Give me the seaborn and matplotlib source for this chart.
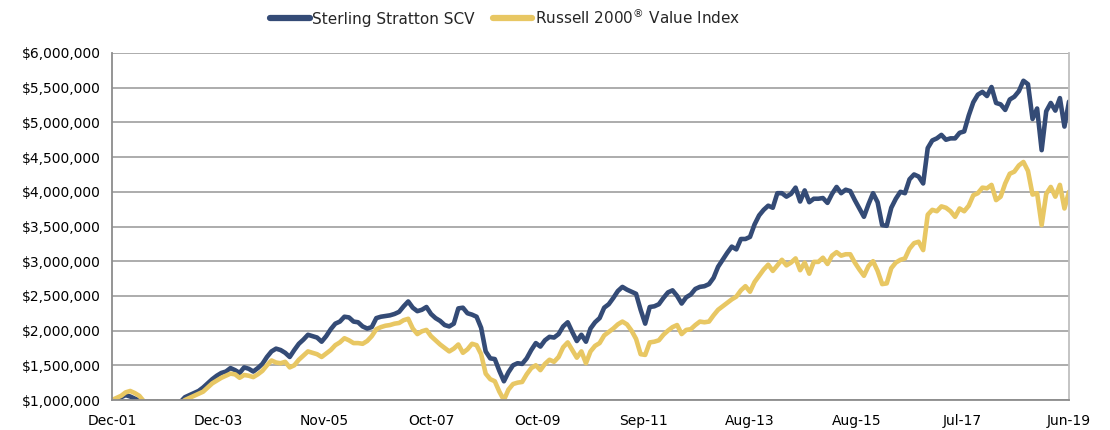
import numpy as np
import pandas as pd
import matplotlib
matplotlib.use("Agg")
import matplotlib.pyplot as plt
import matplotlib.ticker as mticker
import seaborn as sns

# Growth of $1,000,000, monthly from Dec-01 to Jun-19 (values in $ millions)
scv = [
    1.00, 1.01, 1.04, 1.07, 1.05, 1.02, 0.99, 0.95, 0.90, 0.88,
    0.97, 0.93, 0.88, 0.86, 0.90, 0.97, 1.04, 1.07, 1.10, 1.13,
    1.18, 1.24, 1.30, 1.35, 1.39, 1.41, 1.46, 1.43, 1.39, 1.47,
    1.45, 1.41, 1.46, 1.52, 1.62, 1.70, 1.74, 1.72, 1.68, 1.62,
    1.72, 1.81, 1.87, 1.94, 1.92, 1.90, 1.84, 1.92, 2.02, 2.10,
    2.13, 2.20, 2.19, 2.13, 2.12, 2.06, 2.03, 2.05, 2.18, 2.20,
    2.21, 2.22, 2.24, 2.27, 2.35, 2.42, 2.33, 2.28, 2.30, 2.34,
    2.24, 2.18, 2.14, 2.08, 2.06, 2.10, 2.32, 2.33, 2.25, 2.23,
    2.20, 2.04, 1.70, 1.60, 1.59, 1.42, 1.27, 1.40, 1.50, 1.53,
    1.52, 1.60, 1.72, 1.82, 1.77, 1.86, 1.91, 1.90, 1.95, 2.06,
    2.12, 1.98, 1.85, 1.94, 1.84, 2.03, 2.12, 2.18, 2.33, 2.38,
    2.47, 2.57, 2.63, 2.59, 2.56, 2.53, 2.30, 2.10, 2.34, 2.35,
    2.38, 2.47, 2.55, 2.58, 2.50, 2.39, 2.48, 2.52, 2.60, 2.63,
    2.64, 2.67, 2.76, 2.92, 3.02, 3.12, 3.21, 3.17, 3.32, 3.32,
    3.35, 3.53, 3.66, 3.74, 3.80, 3.77, 3.98, 3.98, 3.93, 3.97,
    4.06, 3.86, 4.02, 3.85, 3.90, 3.90, 3.91, 3.84, 3.97, 4.07,
    3.98, 4.03, 4.01, 3.88, 3.76, 3.64, 3.82, 3.98, 3.85, 3.52,
    3.51, 3.77, 3.90, 4.00, 3.98, 4.18, 4.25, 4.22, 4.12, 4.63,
    4.74, 4.77, 4.82, 4.75, 4.77, 4.77, 4.85, 4.87, 5.10, 5.29,
    5.40, 5.44, 5.38, 5.51, 5.28, 5.26, 5.18, 5.33, 5.37, 5.45,
    5.60, 5.55, 5.05, 5.20, 4.60, 5.16, 5.28, 5.17, 5.35, 4.94,
    5.30,
]

r2000v = [
    1.00, 1.03, 1.06, 1.11, 1.13, 1.10, 1.06, 0.98, 0.90, 0.86,
    0.95, 0.92, 0.86, 0.84, 0.88, 0.95, 1.00, 1.03, 1.06, 1.09,
    1.12, 1.18, 1.24, 1.28, 1.32, 1.35, 1.38, 1.37, 1.32, 1.36,
    1.35, 1.33, 1.37, 1.42, 1.50, 1.57, 1.54, 1.53, 1.55, 1.47,
    1.50, 1.58, 1.64, 1.70, 1.68, 1.66, 1.62, 1.67, 1.72, 1.79,
    1.83, 1.89, 1.86, 1.82, 1.82, 1.81, 1.85, 1.92, 2.02, 2.05,
    2.07, 2.08, 2.10, 2.11, 2.15, 2.17, 2.03, 1.95, 1.99, 2.01,
    1.92, 1.86, 1.80, 1.75, 1.70, 1.74, 1.80, 1.68, 1.73, 1.81,
    1.79, 1.66, 1.38, 1.30, 1.27, 1.12, 1.00, 1.15, 1.23, 1.25,
    1.26, 1.37, 1.46, 1.50, 1.43, 1.52, 1.58, 1.55, 1.62, 1.76,
    1.83, 1.72, 1.61, 1.70, 1.53, 1.70, 1.78, 1.82, 1.93, 1.98,
    2.03, 2.09, 2.13, 2.09, 2.00, 1.88, 1.66, 1.65, 1.83, 1.84,
    1.86, 1.94, 2.00, 2.05, 2.08, 1.95, 2.01, 2.02, 2.08, 2.13,
    2.12, 2.13, 2.22, 2.30, 2.35, 2.40, 2.45, 2.49, 2.58, 2.64,
    2.56, 2.70, 2.79, 2.88, 2.95, 2.86, 2.94, 3.02, 2.94, 2.98,
    3.04, 2.87, 2.98, 2.82, 2.99, 2.99, 3.05, 2.96, 3.08, 3.13,
    3.08, 3.10, 3.10, 2.98, 2.88, 2.79, 2.93, 3.00, 2.86, 2.67,
    2.68, 2.90, 2.98, 3.02, 3.04, 3.18, 3.26, 3.28, 3.16, 3.67,
    3.74, 3.72, 3.79, 3.77, 3.72, 3.64, 3.76, 3.72, 3.80, 3.95,
    3.98, 4.06, 4.05, 4.10, 3.88, 3.93, 4.12, 4.26, 4.29, 4.38,
    4.43, 4.30, 3.96, 3.98, 3.52, 3.97, 4.07, 3.93, 4.10, 3.76,
    4.00,
]

tick_labels = ["Dec-01", "Dec-03", "Nov-05", "Oct-07", "Oct-09",
               "Sep-11", "Aug-13", "Aug-15", "Jul-17", "Jun-19"]

series_names = ["Sterling Stratton SCV", "Russell 2000$^{\\circledR}$ Value Index"]
colors = ["#344b76", "#e8c763"]

months = np.arange(len(scv))
df = pd.concat([
    pd.DataFrame({"month": months, "value": np.array(scv) * 1e6, "series": series_names[0]}),
    pd.DataFrame({"month": months, "value": np.array(r2000v) * 1e6, "series": series_names[1]}),
])

sns.set_style("white")
plt.rcParams["font.family"] = ["DejaVu Sans"]

fig = plt.figure(figsize=(11.1, 4.3), dpi=100)
ax = fig.add_axes([112 / 1110, 1 - 400 / 430, (1069 - 112) / 1110, (400 - 53) / 430])

sns.lineplot(data=df, x="month", y="value", hue="series", palette=colors,
             linewidth=3.3, ax=ax, legend=False)

ax.set_xlim(0, len(scv) - 1)
ax.set_ylim(1e6, 6e6)
ax.set_yticks(np.arange(1e6, 6.01e6, 5e5))
ax.yaxis.set_major_formatter(mticker.FuncFormatter(lambda v, p: "${:,.0f}".format(v)))
ax.set_xticks(np.linspace(0, len(scv) - 1, len(tick_labels)))
ax.set_xticklabels(tick_labels)
ax.set_xlabel("")
ax.set_ylabel("")

ax.grid(axis="y", color="#a6a6a6", linewidth=1.3)
ax.set_axisbelow(True)
for side in ["left", "bottom"]:
    ax.spines[side].set_color("#8c8c8c")
    ax.spines[side].set_linewidth(1.3)
ax.spines["right"].set_color("#bfbfbf")
ax.spines["right"].set_linewidth(1.3)
ax.spines["top"].set_visible(False)
ax.tick_params(axis="both", direction="out", length=4, width=1.2, color="#8c8c8c",
               labelsize=10, labelcolor="black")
ax.tick_params(axis="x", pad=6)
ax.tick_params(axis="y", pad=4)

handles = [plt.Line2D([], [], color=c, linewidth=4.5, solid_capstyle="round") for c in colors]
fig.legend(handles, series_names, loc="center", bbox_to_anchor=(0.455, 1 - 17 / 430),
           ncol=2, frameon=False, fontsize=11, handlelength=2.6, handletextpad=0.15,
           columnspacing=1.2)

fig.savefig("out.png", dpi=100)
